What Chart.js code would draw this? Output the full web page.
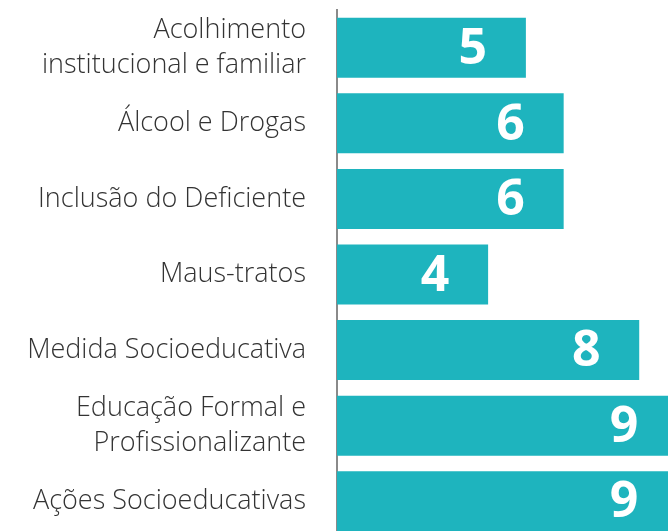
<!DOCTYPE html>
<html>
<head>
<meta charset="utf-8">
<script src="https://cdn.jsdelivr.net/npm/chart.js@4"></script>
<style>
  html, body { margin: 0; padding: 0; background: #fff; overflow: hidden; }
  canvas { display: block; }
</style>
</head>
<body>
<canvas id="chart" width="677" height="539"></canvas>
<script>
const categories = [
  ['Acolhimento', 'institucional e familiar'],
  'Álcool e Drogas',
  'Inclusão do Deficiente',
  'Maus-tratos',
  'Medida Socioeducativa',
  ['Educação Formal e', 'Profissionalizante'],
  'Ações Socioeducativas'
]
const counts = [5, 6, 6, 4, 8, 9, 9]

const barColor = '#1eb4be'

// white number near the end of each bar
const valueLabels = {
  id: 'valueLabels',
  afterDatasetsDraw(chart) {
    const ctx = chart.ctx
    const meta = chart.getDatasetMeta(0)
    ctx.save()
    ctx.fillStyle = '#fff'
    ctx.font = 'bold 50px "Open Sans"'
    ctx.textAlign = 'center'
    ctx.textBaseline = 'middle'
    meta.data.forEach((bar, i) => {
      ctx.fillText(String(counts[i]), bar.x - 53, bar.y + 2)
    })
    ctx.restore()
  }
}

new Chart(document.getElementById('chart'), {
  type: 'bar',
  data: {
    labels: categories,
    datasets: [{
      data: counts,
      backgroundColor: barColor,
      borderWidth: 0,
      categoryPercentage: 1,
      barPercentage: 0.794
    }]
  },
  options: {
    indexAxis: 'y',
    responsive: false,
    animation: false,
    layout: { padding: { top: 10, right: 0, bottom: 0, left: 0 } },
    scales: {
      x: {
        display: false,
        min: 0,
        max: 9
      },
      y: {
        afterFit(scale) {
          scale.width = 337
          scale.paddingTop = 0
          scale.paddingBottom = 0
        },
        grid: { display: false, drawTicks: false },
        border: { display: true, color: '#8a8a8a', width: 2 },
        ticks: {
          padding: 31,
          color: '#333',
          font: { family: '"Open Sans"', size: 27, weight: '300', lineHeight: 1.3 }
        }
      }
    },
    plugins: {
      legend: false,
      tooltip: { enabled: false }
    }
  },
  plugins: [valueLabels]
})
</script>
</body>
</html>
